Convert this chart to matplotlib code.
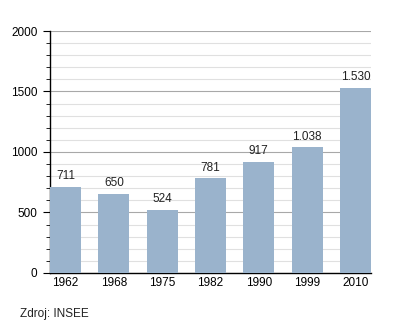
import numpy as np
import matplotlib.pyplot as plt
from matplotlib.ticker import MultipleLocator

years = ['1962', '1968', '1975', '1982', '1990', '1999', '2010']
population = [711, 650, 524, 781, 917, 1038, 1530]
labels = ['711', '650', '524', '781', '917', '1.038', '1.530']


def main():
    plt.rcParams['font.family'] = ['Liberation Sans', 'DejaVu Sans']
    fig = plt.figure(figsize=(4, 3.23), dpi=100)
    ax = fig.add_axes([0.125, 0.155, 0.8025, 0.749])
    x = np.arange(len(years))
    w = 0.645
    bars = ax.bar(x, population, width=w, color='#9ab3cc', zorder=3)
    for b, lab in zip(bars, labels):
        ax.text(b.get_x() + w / 2, b.get_height() + 40, lab,
                ha='center', va='bottom', fontsize=8.5, color='#222222')

    ax.set_xlim(-w / 2, len(years) - 1 + w / 2)
    ax.set_ylim(0, 2000)
    ax.set_xticks(x)
    ax.set_xticklabels(years)
    ax.yaxis.set_major_locator(MultipleLocator(500))
    ax.yaxis.set_minor_locator(MultipleLocator(100))
    ax.grid(axis='y', which='major', color='#a8a8a8', lw=0.8, zorder=0)
    ax.grid(axis='y', which='minor', color='#e0e0e0', lw=0.8, zorder=0)
    for s in ('top', 'right'):
        ax.spines[s].set_visible(False)
    ax.spines['left'].set_linewidth(1.0)
    ax.spines['bottom'].set_linewidth(1.0)
    ax.tick_params(axis='x', length=0, labelsize=8.5, pad=3)
    ax.tick_params(axis='y', which='major', length=5, labelsize=8.5, pad=4)
    ax.tick_params(axis='y', which='minor', length=3)

    fig.text(0.05, 0.02, 'Zdroj: INSEE', fontsize=8.5, color='#222222')
    fig.savefig('out.png', dpi=100)


if __name__ == '__main__':
    main()
